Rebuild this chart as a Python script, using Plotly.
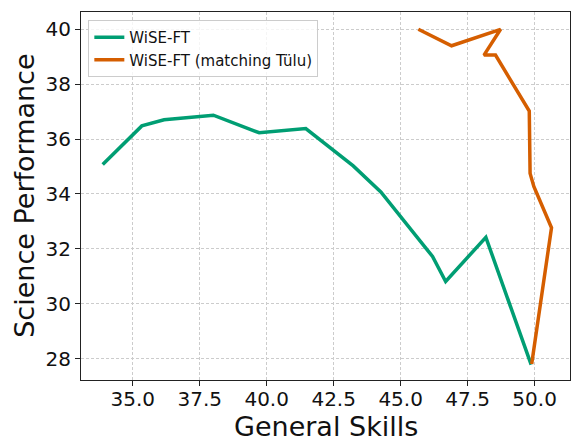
import plotly.graph_objects as go

wise_x = [33.88, 35.34, 36.17, 38.01, 39.72, 41.46, 43.23, 44.26, 46.19, 46.68, 48.18, 49.87]
wise_y = [35.07, 36.48, 36.70, 36.87, 36.23, 36.38, 35.02, 34.07, 31.72, 30.81, 32.42, 27.78]

tulu_x = [45.66, 46.90, 48.73, 48.11, 48.54, 49.20, 49.80, 49.83, 49.97, 50.63, 49.89]
tulu_y = [40.00, 39.40, 40.00, 39.06, 39.06, 37.97, 37.02, 34.75, 34.27, 32.77, 27.80]

x_ticks = [35.0, 37.5, 40.0, 42.5, 45.0, 47.5, 50.0]
x_tick_text = ["35.0", "37.5", "40.0", "42.5", "45.0", "47.5", "50.0"]
y_ticks = [28, 30, 32, 34, 36, 38, 40]

font = "DejaVu Sans"

fig = go.Figure()
fig.add_trace(go.Scatter(x=wise_x, y=wise_y, mode="lines", name="WiSE-FT",
                         line=dict(color="#009E73", width=3.5)))
fig.add_trace(go.Scatter(x=tulu_x, y=tulu_y, mode="lines", name="WiSE-FT (matching Tülu)",
                         line=dict(color="#D55E00", width=3.5)))

axis_common = dict(
    showline=True, linecolor="#222222", linewidth=1, mirror=True,
    ticks="outside", ticklen=5, tickwidth=1, tickcolor="#222222",
    showgrid=True, gridcolor="#cccccc", griddash="3px,2px", gridwidth=0.8,
    zeroline=False, tickfont=dict(family=font, size=20, color="#111111"),
    automargin=False,
)

fig.update_layout(
    width=571, height=441,
    margin=dict(l=81, r=1, t=12, b=61),
    paper_bgcolor="white", plot_bgcolor="white",
    font=dict(family=font, color="#111111"),
    xaxis=dict(range=[33.07, 51.32], tickvals=x_ticks, ticktext=x_tick_text,
               ticklabelstandoff=-4, **axis_common),
    yaxis=dict(range=[27.22, 40.63], tickvals=y_ticks, **axis_common),
    legend=dict(x=0.015, y=0.978, xanchor="left", yanchor="top",
                bgcolor="rgba(255,255,255,0.8)", bordercolor="#cccccc", borderwidth=1,
                font=dict(family=font, size=15), tracegroupgap=2),
    annotations=[
        dict(text="General Skills", xref="paper", yref="paper", x=0.5, y=-0.125,
             xanchor="center", yanchor="middle", showarrow=False,
             font=dict(family=font, size=27, color="#111111")),
        dict(text="Science Performance", xref="paper", yref="paper", x=-0.117, y=0.5,
             xanchor="center", yanchor="middle", showarrow=False, textangle=-90,
             font=dict(family=font, size=27, color="#111111")),
    ],
)

fig.write_html("out.html", config={"displayModeBar": False},
               post_script="document.body.style.margin='0px';document.body.style.overflow='hidden';")
